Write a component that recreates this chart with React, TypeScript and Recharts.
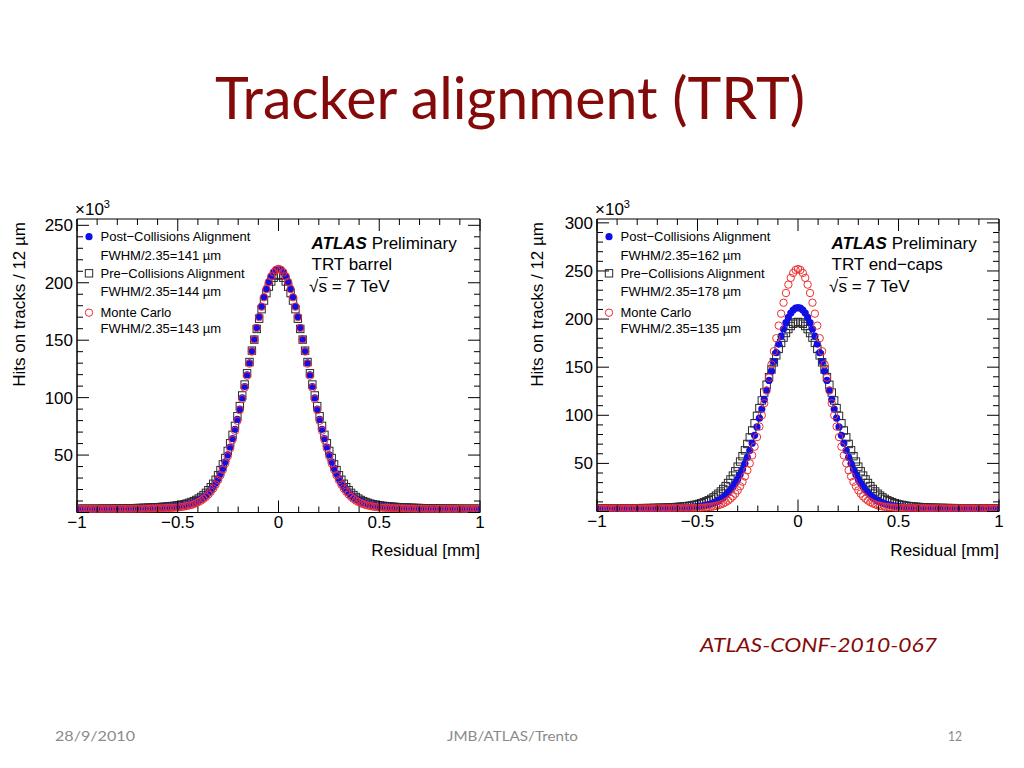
import React from "react";
import { ScatterChart, Scatter, XAxis, YAxis, ReferenceArea } from "recharts";

// bin centres of the residual histograms (12 um bins), in mm
const residual = [
  -0.996, -0.984, -0.972, -0.96, -0.948, -0.936, -0.924, -0.912, -0.9, -0.888,
  -0.876, -0.864, -0.852, -0.84, -0.828, -0.816, -0.804, -0.792, -0.78, -0.768,
  -0.756, -0.744, -0.732, -0.72, -0.708, -0.696, -0.684, -0.672, -0.66, -0.648,
  -0.636, -0.624, -0.612, -0.6, -0.588, -0.576, -0.564, -0.552, -0.54, -0.528,
  -0.516, -0.504, -0.492, -0.48, -0.468, -0.456, -0.444, -0.432, -0.42, -0.408,
  -0.396, -0.384, -0.372, -0.36, -0.348, -0.336, -0.324, -0.312, -0.3, -0.288,
  -0.276, -0.264, -0.252, -0.24, -0.228, -0.216, -0.204, -0.192, -0.18, -0.168,
  -0.156, -0.144, -0.132, -0.12, -0.108, -0.096, -0.084, -0.072, -0.06, -0.048,
  -0.036, -0.024, -0.012,
  0,
  0.012, 0.024, 0.036, 0.048, 0.06, 0.072, 0.084, 0.096, 0.108, 0.12,
  0.132, 0.144, 0.156, 0.168, 0.18, 0.192, 0.204, 0.216, 0.228, 0.24,
  0.252, 0.264, 0.276, 0.288, 0.3, 0.312, 0.324, 0.336, 0.348, 0.36,
  0.372, 0.384, 0.396, 0.408, 0.42, 0.432, 0.444, 0.456, 0.468, 0.48,
  0.492, 0.504, 0.516, 0.528, 0.54, 0.552, 0.564, 0.576, 0.588, 0.6,
  0.612, 0.624, 0.636, 0.648, 0.66, 0.672, 0.684, 0.696, 0.708, 0.72,
  0.732, 0.744, 0.756, 0.768, 0.78, 0.792, 0.804, 0.816, 0.828, 0.84,
  0.852, 0.864, 0.876, 0.888, 0.9, 0.912, 0.924, 0.936, 0.948, 0.96,
  0.972, 0.984, 0.996,
];

// TRT barrel, hits x10^3
const barrelPost = [
  3.2, 3.2, 3.2, 3.2, 3.2, 3.2, 3.2, 3.2, 3.2, 3.2, 3.2, 3.2, 3.2,
  3.3, 3.3, 3.3, 3.3, 3.3, 3.3, 3.4, 3.4, 3.4, 3.4,
  3.5, 3.5, 3.6, 3.6, 3.7, 3.7, 3.8, 3.9, 3.9, 4.0,
  4.1, 4.2, 4.3, 4.4, 4.6, 4.7, 4.9, 5.1, 5.3, 5.6,
  5.9, 6.3, 6.7, 7.2, 7.8, 8.5, 9.4, 10.5, 11.7, 13.2,
  15.0, 17.1, 19.5, 22.4, 25.7, 29.4, 33.8, 38.6, 44.1, 50.2,
  57.0, 64.4, 72.4, 81.0, 90.1, 99.7, 109.7, 119.9, 130.3, 140.8,
  151.0, 161.0, 170.5, 179.4, 187.6, 194.7, 200.7, 205.6, 209.1, 211.3,
  212.0,
  211.3, 209.1, 205.6, 200.7, 194.7, 187.6, 179.4, 170.5, 161.0, 151.0,
  140.8, 130.3, 119.9, 109.7, 99.7, 90.1, 81.0, 72.4, 64.4, 57.0,
  50.2, 44.1, 38.6, 33.8, 29.4, 25.7, 22.4, 19.5, 17.1, 15.0,
  13.2, 11.7, 10.5, 9.4, 8.5, 7.8, 7.2, 6.7, 6.3, 5.9,
  5.6, 5.3, 5.1, 4.9, 4.7, 4.6, 4.4, 4.3, 4.2, 4.1,
  4.0, 3.9, 3.9, 3.8, 3.7, 3.7, 3.6, 3.6, 3.5, 3.5,
  3.4, 3.4, 3.4, 3.4, 3.3, 3.3, 3.3, 3.3, 3.3, 3.3,
  3.2, 3.2, 3.2, 3.2, 3.2, 3.2, 3.2, 3.2, 3.2, 3.2, 3.2, 3.2, 3.2,
];
const barrelPre = [
  3.2, 3.2, 3.2, 3.2, 3.2, 3.2, 3.2, 3.2, 3.2, 3.3, 3.3, 3.3, 3.3,
  3.3, 3.4, 3.4, 3.4, 3.5, 3.5, 3.5, 3.6, 3.6, 3.7,
  3.7, 3.8, 3.9, 3.9, 4.0, 4.1, 4.2, 4.3, 4.4, 4.5,
  4.6, 4.7, 4.9, 5.0, 5.2, 5.4, 5.6, 5.8, 6.1, 6.4,
  6.8, 7.2, 7.7, 8.4, 9.1, 9.9, 10.9, 12.1, 13.5, 15.2,
  17.1, 19.4, 22.0, 25.0, 28.5, 32.4, 36.9, 41.9, 47.4, 53.6,
  60.3, 67.6, 75.4, 83.8, 92.6, 101.9, 111.4, 121.2, 131.0, 140.9,
  150.5, 159.8, 168.7, 177.0, 184.5, 191.0, 196.6, 201.1, 204.4, 206.3,
  207.0,
  206.3, 204.4, 201.1, 196.6, 191.0, 184.5, 177.0, 168.7, 159.8, 150.5,
  140.9, 131.0, 121.2, 111.4, 101.9, 92.6, 83.8, 75.4, 67.6, 60.3,
  53.6, 47.4, 41.9, 36.9, 32.4, 28.5, 25.0, 22.0, 19.4, 17.1,
  15.2, 13.5, 12.1, 10.9, 9.9, 9.1, 8.4, 7.7, 7.2, 6.8,
  6.4, 6.1, 5.8, 5.6, 5.4, 5.2, 5.0, 4.9, 4.7, 4.6,
  4.5, 4.4, 4.3, 4.2, 4.1, 4.0, 3.9, 3.9, 3.8, 3.7,
  3.7, 3.6, 3.6, 3.5, 3.5, 3.5, 3.4, 3.4, 3.4, 3.3,
  3.3, 3.3, 3.3, 3.3, 3.2, 3.2, 3.2, 3.2, 3.2, 3.2, 3.2, 3.2, 3.2,
];
const barrelMC = [
  3.0, 3.0, 3.0, 3.0, 3.0, 3.0, 3.0, 3.0, 3.0, 3.0, 3.0, 3.0, 3.0,
  3.1, 3.1, 3.1, 3.1, 3.1, 3.1, 3.1, 3.1, 3.1, 3.1,
  3.2, 3.2, 3.2, 3.2, 3.3, 3.3, 3.3, 3.4, 3.4, 3.5,
  3.5, 3.6, 3.7, 3.8, 3.9, 4.0, 4.1, 4.2, 4.4, 4.6,
  4.9, 5.2, 5.6, 6.1, 6.6, 7.3, 8.2, 9.2, 10.4, 11.9,
  13.6, 15.7, 18.1, 20.9, 24.3, 28.1, 32.4, 37.3, 42.8, 48.9,
  55.8, 63.2, 71.2, 79.8, 89.1, 98.7, 108.7, 119.1, 129.6, 140.1,
  150.4, 160.5, 170.1, 179.1, 187.3, 194.5, 200.6, 205.5, 209.1, 211.3,
  212.0,
  211.3, 209.1, 205.5, 200.6, 194.5, 187.3, 179.1, 170.1, 160.5, 150.4,
  140.1, 129.6, 119.1, 108.7, 98.7, 89.1, 79.8, 71.2, 63.2, 55.8,
  48.9, 42.8, 37.3, 32.4, 28.1, 24.3, 20.9, 18.1, 15.7, 13.6,
  11.9, 10.4, 9.2, 8.2, 7.3, 6.6, 6.1, 5.6, 5.2, 4.9,
  4.6, 4.4, 4.2, 4.1, 4.0, 3.9, 3.8, 3.7, 3.6, 3.5,
  3.5, 3.4, 3.4, 3.3, 3.3, 3.3, 3.2, 3.2, 3.2, 3.2,
  3.1, 3.1, 3.1, 3.1, 3.1, 3.1, 3.1, 3.1, 3.1, 3.1,
  3.0, 3.0, 3.0, 3.0, 3.0, 3.0, 3.0, 3.0, 3.0, 3.0, 3.0, 3.0, 3.0,
];

// TRT end-caps, hits x10^3
const endcapPost = [
  3.2, 3.2, 3.2, 3.2, 3.2, 3.2, 3.2, 3.2, 3.2, 3.2, 3.2, 3.2, 3.2,
  3.3, 3.3, 3.3, 3.3, 3.3, 3.3, 3.3, 3.3, 3.3, 3.3,
  3.4, 3.4, 3.4, 3.4, 3.5, 3.5, 3.5, 3.6, 3.6, 3.7,
  3.8, 3.8, 3.9, 4.0, 4.2, 4.3, 4.5, 4.7, 5.0, 5.3,
  5.6, 6.1, 6.6, 7.2, 8.0, 8.9, 10.0, 11.3, 12.9, 14.7,
  16.9, 19.4, 22.3, 25.6, 29.4, 33.6, 38.5, 43.8, 49.8, 56.2,
  63.3, 71.0, 79.2, 87.9, 97.0, 106.5, 116.3, 126.2, 136.2, 146.0,
  155.7, 165.1, 174.0, 182.2, 189.7, 196.2, 201.7, 206.2, 209.4, 211.3,
  212.0,
  211.3, 209.4, 206.2, 201.7, 196.2, 189.7, 182.2, 174.0, 165.1, 155.7,
  146.0, 136.2, 126.2, 116.3, 106.5, 97.0, 87.9, 79.2, 71.0, 63.3,
  56.2, 49.8, 43.8, 38.5, 33.6, 29.4, 25.6, 22.3, 19.4, 16.9,
  14.7, 12.9, 11.3, 10.0, 8.9, 8.0, 7.2, 6.6, 6.1, 5.6,
  5.3, 5.0, 4.7, 4.5, 4.3, 4.2, 4.0, 3.9, 3.8, 3.8,
  3.7, 3.6, 3.6, 3.5, 3.5, 3.5, 3.4, 3.4, 3.4, 3.4,
  3.3, 3.3, 3.3, 3.3, 3.3, 3.3, 3.3, 3.3, 3.3, 3.3,
  3.2, 3.2, 3.2, 3.2, 3.2, 3.2, 3.2, 3.2, 3.2, 3.2, 3.2, 3.2, 3.2,
];
const endcapPre = [
  3.3, 3.3, 3.3, 3.3, 3.3, 3.3, 3.3, 3.3, 3.3, 3.3, 3.3, 3.3, 3.3,
  3.3, 3.4, 3.4, 3.4, 3.4, 3.5, 3.5, 3.5, 3.6, 3.6,
  3.7, 3.7, 3.8, 3.9, 3.9, 4.0, 4.1, 4.3, 4.4, 4.5,
  4.7, 4.9, 5.1, 5.3, 5.6, 5.9, 6.3, 6.8, 7.3, 7.9,
  8.7, 9.6, 10.6, 11.7, 13.1, 14.7, 16.5, 18.5, 20.8, 23.4,
  26.4, 29.6, 33.3, 37.3, 41.8, 46.6, 51.9, 57.5, 63.6, 70.2,
  77.0, 84.2, 91.7, 99.4, 107.4, 115.4, 123.6, 131.7, 139.7, 147.6,
  155.1, 162.3, 169.0, 175.2, 180.7, 185.5, 189.6, 192.8, 195.1, 196.5,
  197.0,
  196.5, 195.1, 192.8, 189.6, 185.5, 180.7, 175.2, 169.0, 162.3, 155.1,
  147.6, 139.7, 131.7, 123.6, 115.4, 107.4, 99.4, 91.7, 84.2, 77.0,
  70.2, 63.6, 57.5, 51.9, 46.6, 41.8, 37.3, 33.3, 29.6, 26.4,
  23.4, 20.8, 18.5, 16.5, 14.7, 13.1, 11.7, 10.6, 9.6, 8.7,
  7.9, 7.3, 6.8, 6.3, 5.9, 5.6, 5.3, 5.1, 4.9, 4.7,
  4.5, 4.4, 4.3, 4.1, 4.0, 3.9, 3.9, 3.8, 3.7, 3.7,
  3.6, 3.6, 3.5, 3.5, 3.5, 3.4, 3.4, 3.4, 3.4, 3.3,
  3.3, 3.3, 3.3, 3.3, 3.3, 3.3, 3.3, 3.3, 3.3, 3.3, 3.3, 3.3, 3.3,
];
const endcapMC = [
  3.1, 3.1, 3.1, 3.1, 3.1, 3.1, 3.1, 3.1, 3.1, 3.1, 3.1, 3.1, 3.1,
  3.1, 3.1, 3.1, 3.1, 3.1, 3.1, 3.1, 3.1, 3.1, 3.1,
  3.2, 3.2, 3.2, 3.2, 3.2, 3.2, 3.2, 3.2, 3.2, 3.2,
  3.3, 3.3, 3.3, 3.3, 3.4, 3.4, 3.5, 3.6, 3.7, 3.8,
  3.9, 4.1, 4.3, 4.6, 4.9, 5.3, 5.9, 6.5, 7.4, 8.4,
  9.7, 11.3, 13.3, 15.7, 18.6, 22.0, 26.2, 30.9, 36.5, 42.8,
  50.1, 58.3, 67.4, 77.4, 88.3, 100.0, 112.5, 125.6, 139.1, 152.8,
  166.6, 180.1, 193.2, 205.6, 217.0, 227.1, 235.8, 242.8, 247.9, 251.0,
  252.0,
  251.0, 247.9, 242.8, 235.8, 227.1, 217.0, 205.6, 193.2, 180.1, 166.6,
  152.8, 139.1, 125.6, 112.5, 100.0, 88.3, 77.4, 67.4, 58.3, 50.1,
  42.8, 36.5, 30.9, 26.2, 22.0, 18.6, 15.7, 13.3, 11.3, 9.7,
  8.4, 7.4, 6.5, 5.9, 5.3, 4.9, 4.6, 4.3, 4.1, 3.9,
  3.8, 3.7, 3.6, 3.5, 3.4, 3.4, 3.3, 3.3, 3.3, 3.3,
  3.2, 3.2, 3.2, 3.2, 3.2, 3.2, 3.2, 3.2, 3.2, 3.2,
  3.1, 3.1, 3.1, 3.1, 3.1, 3.1, 3.1, 3.1, 3.1, 3.1,
  3.1, 3.1, 3.1, 3.1, 3.1, 3.1, 3.1, 3.1, 3.1, 3.1, 3.1, 3.1, 3.1,
];

const xTicks = [
  -1, -0.9, -0.8, -0.7, -0.6, -0.5, -0.4, -0.3, -0.2, -0.1, 0,
  0.1, 0.2, 0.3, 0.4, 0.5, 0.6, 0.7, 0.8, 0.9, 1,
];
const barrelTicks = [
  0, 10, 20, 30, 40, 50, 60, 70, 80, 90, 100, 110, 120, 130, 140, 150, 160, 170,
  180, 190, 200, 210, 220, 230, 240, 250,
];
const endcapTicks = [
  0, 10, 20, 30, 40, 50, 60, 70, 80, 90, 100, 110, 120, 130, 140, 150, 160, 170,
  180, 190, 200, 210, 220, 230, 240, 250, 260, 270, 280, 290, 300,
];

const ROOT_FONT = "'Liberation Sans', Arial, Helvetica, sans-serif";
const SLIDE_FONT = "Lato, 'Open Sans', sans-serif";
const BLUE = "#1010e6";
const RED = "#ee3030";
const DARK = "#2a2a2a";

const minus = (v: number) => (v < 0 ? "\u2212" + Math.abs(v) : String(v));

// ROOT style ticks: inward, on both sides of the frame
const XTick = (p: any) => {
  const v = p.payload.value;
  const major = Math.abs(v * 2 - Math.round(v * 2)) < 1e-6;
  const len = major ? 12 : 6;
  return (
    <g>
      <line x1={p.x} y1={p.y} x2={p.x} y2={p.y - len} stroke="#000" strokeWidth={1} />
      <line x1={p.x} y1={p.y - p.span} x2={p.x} y2={p.y - p.span + len} stroke="#000" strokeWidth={1} />
      {major && (
        <text x={p.x} y={p.y + 15} textAnchor="middle" fontSize={17} fontFamily={ROOT_FONT} fill="#000">
          {minus(v)}
        </text>
      )}
    </g>
  );
};

const YTick = (p: any) => {
  const v = p.payload.value;
  const major = v % 50 === 0;
  const len = major ? 12 : 6;
  return (
    <g>
      <line x1={p.x} y1={p.y} x2={p.x + len} y2={p.y} stroke="#000" strokeWidth={1} />
      <line x1={p.x + p.span} y1={p.y} x2={p.x + p.span - len} y2={p.y} stroke="#000" strokeWidth={1} />
      {major && v !== 0 && (
        <text x={p.x - 4} y={p.y + 6} textAnchor="end" fontSize={17} fontFamily={ROOT_FONT} fill="#000">
          {v}
        </text>
      )}
    </g>
  );
};

const FilledDot = (p: any) => <circle cx={p.cx} cy={p.cy} r={3.6} fill={BLUE} />;
const OpenCircle = (p: any) => (
  <circle cx={p.cx} cy={p.cy} r={3.7} fill="none" stroke={RED} strokeWidth={1} />
);
const OpenSquare = (p: any) => (
  <rect x={p.cx - 3.7} y={p.cy - 3.7} width={7.4} height={7.4} fill="none" stroke={DARK} strokeWidth={1} />
);

type PlotProps = {
  left: number;
  top: number;
  width: number;
  height: number;
  margin: { top: number; right: number; bottom: number; left: number };
  yMax: number;
  yTicks: number[];
  post: number[];
  pre: number[];
  mc: number[];
};

// axes are 1px thick so recharts still draws their ticks
function ResidualPlot(props: PlotProps) {
  const { margin } = props;
  const plotW = props.width - margin.left - margin.right - 1;
  const plotH = props.height - margin.top - margin.bottom - 1;
  const post = residual.map((r, i) => ({ r, n: props.post[i] }));
  const pre = residual.map((r, i) => ({ r, n: props.pre[i] }));
  const mc = residual.map((r, i) => ({ r, n: props.mc[i] }));

  return (
    <div style={{ position: "absolute", left: props.left, top: props.top }}>
      <ScatterChart width={props.width} height={props.height} margin={margin}>
        <XAxis
          dataKey="r"
          type="number"
          domain={[-1, 1]}
          ticks={xTicks}
          interval={0}
          tickSize={0}
          tickMargin={0}
          tickLine={false}
          height={1}
          allowDataOverflow
          axisLine={{ stroke: "#000" }}
          tick={<XTick span={plotH} />}
        />
        <YAxis
          dataKey="n"
          type="number"
          domain={[0, props.yMax]}
          ticks={props.yTicks}
          interval={0}
          tickSize={0}
          tickMargin={0}
          tickLine={false}
          width={1}
          allowDataOverflow
          axisLine={{ stroke: "#000" }}
          tick={<YTick span={plotW} />}
        />
        <ReferenceArea
          x1={-1}
          x2={1}
          y1={0}
          y2={props.yMax}
          fill="none"
          stroke="#000"
          strokeWidth={1}
          ifOverflow="visible"
        />
        <Scatter data={pre} shape={OpenSquare} isAnimationActive={false} />
        <Scatter data={post} shape={FilledDot} isAnimationActive={false} />
        <Scatter data={mc} shape={OpenCircle} isAnimationActive={false} />
      </ScatterChart>
    </div>
  );
}

function Legend({ x, fwhm }: { x: number; fwhm: string[] }) {
  const t = x + 11.5;
  const common = { fontSize: 13, fontFamily: ROOT_FONT, fill: "#000" } as const;
  return (
    <g>
      <circle cx={x} cy={236.7} r={3.6} fill={BLUE} />
      <text x={t} y={241.4} {...common}>Post{"\u2212"}Collisions Alignment</text>
      <text x={t} y={259.7} {...common}>FWHM/2.35={fwhm[0]} {"\u00b5"}m</text>
      <rect x={x - 3.7} y={269.6} width={7.4} height={7.4} fill="none" stroke={DARK} strokeWidth={1} />
      <text x={t} y={278} {...common}>Pre{"\u2212"}Collisions Alignment</text>
      <text x={t} y={296.4} {...common}>FWHM/2.35={fwhm[1]} {"\u00b5"}m</text>
      <circle cx={x} cy={312.7} r={3.7} fill="none" stroke={RED} strokeWidth={1} />
      <text x={t} y={317.4} {...common}>Monte Carlo</text>
      <text x={t} y={333} {...common}>FWHM/2.35={fwhm[2]} {"\u00b5"}m</text>
    </g>
  );
}

function Labels({ x, region }: { x: number; region: string }) {
  const common = { fontSize: 17, fontFamily: ROOT_FONT, fill: "#000" } as const;
  return (
    <g>
      <text x={x} y={248.5} {...common}>
        <tspan fontWeight="bold" fontStyle="italic">ATLAS</tspan> Preliminary
      </text>
      <text x={x} y={270} {...common}>{region}</text>
      <text x={x - 2.4} y={291.5} {...common}>{"\u221a"}s = 7 TeV</text>
      <line x1={x + 7.5} y1={277.6} x2={x + 16} y2={277.6} stroke="#000" strokeWidth={1} />
    </g>
  );
}

function AxisTitles({ left, right, yTitleX }: { left: number; right: number; yTitleX: number }) {
  const common = { fontSize: 17, fontFamily: ROOT_FONT, fill: "#000" } as const;
  return (
    <g>
      <text x={left - 2} y={215} {...common}>
        {"\u00d7"}10<tspan dy={-7} fontSize={11}>3</tspan>
      </text>
      <text
        x={yTitleX}
        y={222}
        textAnchor="end"
        transform={`rotate(-90 ${yTitleX} 222)`}
        {...common}
      >
        Hits on tracks / 12 {"\u00b5"}m
      </text>
      <text x={right} y={556} textAnchor="end" {...common}>Residual [mm]</text>
    </g>
  );
}

export default function App() {
  return (
    <div
      style={{
        position: "absolute",
        left: 0,
        top: 0,
        width: 1024,
        height: 768,
        background: "#fff",
        overflow: "hidden",
      }}
    >
      <ResidualPlot
        left={0}
        top={190}
        width={500}
        height={380}
        margin={{ top: 29, right: 20, bottom: 56.5, left: 76 }}
        yMax={255.5}
        yTicks={barrelTicks}
        post={barrelPost}
        pre={barrelPre}
        mc={barrelMC}
      />
      <ResidualPlot
        left={510}
        top={190}
        width={514}
        height={380}
        margin={{ top: 29, right: 25, bottom: 57.5, left: 86 }}
        yMax={304}
        yTicks={endcapTicks}
        post={endcapPost}
        pre={endcapPre}
        mc={endcapMC}
      />
      <svg
        width={1024}
        height={768}
        style={{ position: "absolute", left: 0, top: 0, pointerEvents: "none" }}
      >
        <text x={215} y={119} fontSize={58} fontFamily={SLIDE_FONT} fill="#840a0a" textLength={590} lengthAdjust="spacingAndGlyphs">
          Tracker alignment (TRT)
        </text>

        <Legend x={89} fwhm={["141", "144", "143"]} />
        <Labels x={311.5} region="TRT barrel" />
        <AxisTitles left={77} right={480} yTitleX={25} />

        <Legend x={609} fwhm={["162", "178", "135"]} />
        <Labels x={831.5} region={"TRT end\u2212caps"} />
        <AxisTitles left={597} right={999} yTitleX={543} />

        <text x={700} y={652} fontSize={20} fontStyle="italic" fontFamily={SLIDE_FONT} fill="#840a0a" textLength={237} lengthAdjust="spacingAndGlyphs">
          ATLAS-CONF-2010-067
        </text>
        <text x={55} y={741} fontSize={14} fontFamily={SLIDE_FONT} fill="#8a8a8a" textLength={80} lengthAdjust="spacingAndGlyphs">
          28/9/2010
        </text>
        <text x={447} y={741} fontSize={14} fontFamily={SLIDE_FONT} fill="#8a8a8a" textLength={131} lengthAdjust="spacingAndGlyphs">
          JMB/ATLAS/Trento
        </text>
        <text x={948} y={741} fontSize={14} fontFamily={SLIDE_FONT} fill="#8a8a8a" textLength={14} lengthAdjust="spacingAndGlyphs">
          12
        </text>
      </svg>
    </div>
  );
}
